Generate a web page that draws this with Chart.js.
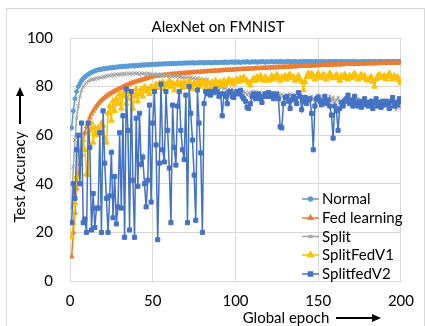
<!DOCTYPE html>
<html>
<head>
<meta charset="utf-8">
<script src="https://cdn.jsdelivr.net/npm/chart.js@4"></script>
<style>
  body { margin: 0; background: #fff; }
  canvas { display: block; }
</style>
</head>
<body>
<canvas id="accChart" width="425" height="326"></canvas>
<script>
// test accuracy per global epoch (epochs 1..200)
const normal = [
  63, 70, 75, 78, 80, 81.3, 82.5, 83.3, 84, 84.6,
  85, 85.5, 85.8, 86.2, 86.4, 86.7, 86.9, 87.1, 87, 87.4,
  87.3, 87.6, 87.5, 87.8, 87.6, 88, 87.8, 88.1, 88, 88.3,
  88.1, 88.4, 88.2, 88.5, 88.3, 88.6, 88.5, 88.7, 88.4, 88.8,
  88.6, 88.9, 88.7, 89, 88.8, 89.1, 88.9, 89.2, 89, 89.2,
  89.1, 89.3, 89.1, 89.4, 89.2, 89.4, 89.3, 89.5, 89.3, 89.5,
  89.4, 89.6, 89.4, 89.6, 89.5, 89.7, 89.5, 89.7, 89.6, 89.8,
  89.6, 89.8, 89.7, 89.9, 89.6, 89.8, 89.7, 89.9, 89.8, 90,
  89.7, 89.9, 89.8, 90, 89.7, 89.9, 89.8, 90.1, 89.8, 90,
  89.9, 90.1, 89.8, 90.2, 89.9, 90.1, 90, 90.2, 89.9, 90.2,
  90, 90.2, 89.9, 90.1, 90.2, 90, 90.3, 90.1, 90, 90.2,
  90.1, 90.3, 90, 90.2, 90.1, 90.3, 90.2, 90, 90.3, 90.1,
  90.2, 90.4, 90.1, 90.2, 90.3, 90.1, 90.4, 90.2, 90.1, 90.3,
  90.2, 90.4, 90.1, 90.3, 90.2, 90.4, 90.2, 90.1, 90.3, 90.2,
  90.4, 90.2, 90.3, 90.1, 90.4, 90.2, 90.3, 90.2, 90.4, 90.1,
  90.3, 90.2, 90.4, 90.3, 90.1, 90.3, 90.4, 90.2, 90.3, 90.2,
  90.4, 90.2, 90.3, 90.4, 90.2, 90.3, 90.1, 90.4, 90.3, 90.2,
  90.3, 90.4, 90.2, 90.3, 90.1, 90.3, 90.4, 90.2, 90.3, 90.2,
  90.4, 90.3, 90.2, 90.4, 90.3, 90.2, 90.3, 90.4, 90.2, 90.3,
  90.2, 90.4, 90.3, 90.2, 90.4, 90.3, 90.2, 90.4, 90.3, 90.3
];

const fedLearning = [
  10, 20, 28, 38, 44, 48, 54, 58, 61, 63.5,
  65.5, 67.3, 68.8, 70, 71, 72, 72.9, 73.7, 74.4, 75,
  75.6, 76.1, 76.6, 77, 77.4, 77.8, 78.2, 78.5, 78.9, 79.2,
  79.5, 79.9, 80.2, 80.5, 80.8, 81.1, 81.4, 81.6, 81.9, 82.1,
  82.3, 82.5, 82.7, 82.9, 83.1, 83.3, 83.5, 83.7, 83.9, 84.1,
  84.3, 84.4, 84.4, 84.5, 84.6, 84.6, 84.8, 84.8, 84.9, 85,
  85, 85.1, 85.2, 85.2, 85.3, 85.4, 85.4, 85.5, 85.5, 85.6,
  85.7, 85.7, 85.8, 85.8, 85.9, 85.9, 86, 86, 86.1, 86.1,
  86.2, 86.2, 86.3, 86.3, 86.4, 86.4, 86.5, 86.5, 86.5, 86.6,
  86.6, 86.7, 86.7, 86.8, 86.8, 86.9, 86.9, 86.9, 87, 87,
  87.1, 87.1, 87.1, 87.2, 87.2, 87.3, 87.3, 87.3, 87.4, 87.4,
  87.4, 87.5, 87.5, 87.5, 87.6, 87.6, 87.6, 87.7, 87.7, 87.7,
  87.8, 87.8, 87.8, 87.9, 87.9, 87.9, 88, 88, 88, 88.1,
  88.1, 88.1, 88.2, 88.2, 88.2, 88.3, 88.3, 88.3, 88.4, 88.4,
  88.4, 88.5, 88.5, 88.5, 88.6, 88.6, 88.6, 88.7, 88.7, 88.7,
  88.8, 88.8, 88.8, 88.9, 88.9, 88.9, 88.9, 89, 89, 89,
  89, 89.1, 89.1, 89.1, 89.1, 89.2, 89.2, 89.2, 89.2, 89.3,
  89.3, 89.3, 89.3, 89.3, 89.4, 89.4, 89.4, 89.4, 89.4, 89.5,
  89.5, 89.5, 89.5, 89.5, 89.5, 89.6, 89.6, 89.6, 89.6, 89.6,
  89.6, 89.7, 89.7, 89.7, 89.7, 89.7, 89.7, 89.8, 89.8, 89.8
];

const split = [
  30, 47, 58, 67, 72, 76, 78.5, 80, 81, 81.7,
  82.2, 82.5, 82.9, 83.1, 83, 83.5, 83.3, 83.8, 83.6, 84,
  84, 84.5, 84.2, 84.8, 84.4, 85, 84.6, 85.2, 84.8, 85,
  85.3, 84.9, 85.4, 85, 85.6, 85.2, 85.5, 85.1, 85.6, 85.3,
  85.5, 85, 85.6, 85.2, 85.4, 84.9, 85.5, 85.1, 85.3, 84.8,
  85.2, 84.7, 85.1, 84.6, 85, 84.5, 84.9, 84.4, 84.8, 84.2,
  84.6, 84.1, 84.5, 84, 84.4, 83.8, 84.2, 83.7, 84, 83.5,
  83.9, 83.4, 83.8, 83.2, 83.6, 83, 83.4, 82.8, 83.2, 82.6,
  83, 82.5, 83, 81.5, 82, 81, 81.5, 80.5, 80, 80.5,
  79.5, 80, 79, 79.5, 78.5, 79, 78, 79, 78.5, 78,
  78.5, 77.5, 78, 77, 78, 77.5, 76.5, 77.5, 77, 78,
  77, 78, 76.5, 77.5, 77, 76, 77.5, 76.5, 77, 78,
  77, 76, 77.5, 76.5, 77, 75.5, 76.5, 77, 76, 75,
  76.5, 75.5, 77, 76, 75, 76.5, 75, 76, 77, 75.5,
  76, 74.5, 76, 75.5, 74.5, 76, 75, 73.5, 75.5, 76.5,
  75, 74, 76, 75, 73.5, 74.5, 76, 74, 75.5, 73,
  74.5, 75.5, 73.5, 74, 75, 72.5, 74, 73.5, 75, 73,
  74, 72.5, 73.5, 75, 73, 72, 74, 73, 71.5, 73.5,
  72.5, 74, 73, 71.5, 73, 72.5, 74, 71, 72.5, 73.5,
  72, 71, 73, 72.5, 71.5, 73, 70.5, 72, 71.5, 71
];

const splitFedV1 = [
  18, 24, 32, 43, 52, 53, 52, 58, 54, 44,
  43.6, 62, 65, 57, 63, 60, 63, 62, 65, 64,
  59, 57, 69, 72, 66, 74, 70, 75, 73, 77,
  71, 76, 78, 73, 75, 78, 77, 71, 76, 79,
  74, 77, 79, 76, 80, 78, 79, 77, 80, 79,
  80, 81, 79.5, 81.5, 80.5, 82, 79, 81, 80.5, 82.5,
  80, 81.5, 78.5, 81, 82, 80.5, 81.5, 79.5, 82, 81,
  80, 82.5, 81, 79, 81.5, 80.5, 82, 80, 81, 82.5,
  81, 80, 82, 81.5, 79.5, 82, 81, 82.5, 80.5, 81.5,
  82, 80.5, 82.5, 81, 82, 83, 81.5, 82.5, 81, 82.5,
  83, 82, 83.5, 82.5, 84, 83, 82.5, 81.5, 80.5, 82.5,
  83.5, 82.5, 84, 83, 84.5, 83.5, 82.5, 84, 83, 82.5,
  83.5, 84.5, 83, 84, 85, 83.5, 82.5, 84, 83.5, 84.5,
  83, 84.5, 85, 83.5, 84, 82.5, 83.5, 84.5, 83, 82,
  78.6, 82, 84, 85.5, 84.5, 85.5, 84, 83, 84.5, 85.5,
  84, 83.5, 85, 84.5, 83, 84, 85.5, 84.5, 83.5, 84,
  85, 83.5, 82.5, 84.5, 83.5, 85, 84, 83, 84.5, 83.5,
  84.5, 85.5, 84, 83, 84, 85, 83.5, 84.5, 83, 82.5,
  83.5, 84, 82, 80, 83, 84.5, 85, 83.5, 84, 84.5,
  83, 84.5, 85.5, 84, 83, 84.5, 83.5, 84, 82.5, 81.5
];

const splitFedV2 = [
  24, 40, 34, 54, 60, 40, 65, 24, 25.5, 20,
  65, 55, 21, 36, 22, 30, 30, 61, 20, 70,
  48.5, 34, 20, 35, 53, 26, 43, 23.5, 30.5, 61,
  30, 68, 18, 79, 62, 21, 78, 41.5, 18, 67,
  39, 69, 48, 51, 40, 30.5, 41.5, 72.4, 32.5, 65,
  78, 56, 17, 48.5, 81, 54, 49, 78, 62, 46.5,
  24, 72.4, 55, 47.7, 72, 78, 62, 54, 50, 76.5,
  24, 80, 69, 58, 43.6, 25, 78.6, 65, 52.7, 20,
  73, 78, 77, 78, 76.5, 78, 77.5, 79, 78, 76,
  77, 68, 77, 76, 73, 77.5, 78, 76, 75.5, 77,
  78, 77, 78.5, 76, 75, 74, 71.5, 71, 73, 76,
  77, 75, 76.5, 77, 75, 73.5, 76, 77, 76, 77.5,
  76, 77, 75, 76.5, 77, 75, 63.5, 63, 73, 75.5,
  76, 74, 71, 74.5, 76, 75, 73, 77.5, 76, 70.5,
  74, 75.5, 73, 74.5, 75, 69, 54, 72, 75, 75.7,
  74, 72.5, 74, 76, 73, 74.5, 72, 68.3, 58.8, 72,
  70, 62, 71, 73.5, 72, 74, 75, 76.5, 73, 74.5,
  72, 76, 73.5, 72, 74, 71.5, 73, 75, 72.5, 73.5,
  72, 74, 71, 73.5, 75, 72, 73.5, 71.5, 74, 72.5,
  74, 73, 71, 74, 75.5, 72, 73.5, 72.5, 75, 73.7
];

const seriesNames = ['Normal', 'Fed learning', 'Split', 'SplitFedV1', 'SplitfedV2'];
const seriesColors = ['#5B9BD5', '#ED7D31', '#A5A5A5', '#FFC000', '#4472C4'];
const xTicks = [0, 50, 100, 150, 200];
const yTicks = [0, 20, 40, 60, 80, 100];

const fontFamily = 'Lato, "Open Sans", sans-serif';

// marker look per series (Excel defaults)
const markerStyles = [
  { pointStyle: 'circle', radius: 2 },
  { pointStyle: 'triangle', radius: 2.6 },
  { pointStyle: 'crossRot', radius: 2.6 },
  { pointStyle: 'triangle', radius: 3.2 },
  { pointStyle: 'rect', radius: 2.9 }
];

const allSeries = [normal, fedLearning, split, splitFedV1, splitFedV2];

function toPoints(values) {
  return values.map((v, i) => ({ x: i + 1, y: v }));
}

const datasets = allSeries.map((values, i) => ({
  label: seriesNames[i],
  data: toPoints(values),
  borderColor: seriesColors[i],
  backgroundColor: seriesColors[i],
  borderWidth: 1.5,
  pointStyle: markerStyles[i].pointStyle,
  pointRadius: markerStyles[i].radius,
  pointBorderWidth: 1,
  pointBorderColor: seriesColors[i],
  pointBackgroundColor: seriesColors[i],
  tension: 0,
  order: allSeries.length - i // later series on top
}));

// title, axis titles with arrows, legend inside the plot, outer frame
const decorations = {
  id: 'decorations',
  beforeDraw(chart) {
    const ctx = chart.ctx;
    ctx.save();
    ctx.fillStyle = '#fff';
    ctx.fillRect(0, 0, chart.width, chart.height);
    ctx.strokeStyle = '#D9D9D9';
    ctx.lineWidth = 1;
    ctx.strokeRect(6.5, 8.5, 418, 330);
    ctx.restore();
  },
  afterDraw(chart) {
    const ctx = chart.ctx;
    const area = chart.chartArea;
    ctx.save();
    ctx.fillStyle = '#000';
    ctx.strokeStyle = '#000';
    ctx.font = '15px ' + fontFamily;
    ctx.textBaseline = 'middle';

    // chart title
    ctx.textAlign = 'center';
    ctx.fillText('AlexNet on FMNIST', 218, 27);

    // x axis title + arrow
    ctx.fillText('Global epoch', 286, 318);
    ctx.lineWidth = 2;
    ctx.beginPath();
    ctx.moveTo(336, 318);
    ctx.lineTo(373, 318);
    ctx.stroke();
    ctx.beginPath();
    ctx.moveTo(381, 318);
    ctx.lineTo(372, 314);
    ctx.lineTo(372, 322);
    ctx.closePath();
    ctx.fill();

    // y axis title + arrow
    ctx.save();
    ctx.translate(20, 177);
    ctx.rotate(-Math.PI / 2);
    ctx.fillText('Test Accuracy', 0, 0);
    ctx.restore();
    ctx.beginPath();
    ctx.moveTo(20, 124);
    ctx.lineTo(20, 95);
    ctx.stroke();
    ctx.beginPath();
    ctx.moveTo(20, 87);
    ctx.lineTo(16, 96);
    ctx.lineTo(24, 96);
    ctx.closePath();
    ctx.fill();

    // legend
    ctx.textAlign = 'left';
    const rowY = [199, 218, 236.5, 255, 274];
    seriesNames.forEach((name, i) => {
      const y = rowY[i];
      ctx.strokeStyle = seriesColors[i];
      ctx.fillStyle = seriesColors[i];
      ctx.lineWidth = 1.5;
      ctx.beginPath();
      ctx.moveTo(302, y);
      ctx.lineTo(319, y);
      ctx.stroke();
      Chart.helpers.drawPoint(ctx, {
        pointStyle: markerStyles[i].pointStyle,
        radius: markerStyles[i].radius,
        rotation: 0,
        borderWidth: 1
      }, 310.5, y);
      ctx.fillStyle = '#000';
      ctx.fillText(name, 322, y + 0.5);
    });
    ctx.restore();
  }
};

new Chart(document.getElementById('accChart'), {
  type: 'line',
  data: { datasets: datasets },
  plugins: [decorations],
  options: {
    responsive: false,
    devicePixelRatio: 1,
    animation: false,
    layout: { padding: { left: 0, right: 13, top: 38, bottom: 0 } },
    plugins: {
      legend: { display: false },
      title: { display: false },
      tooltip: { enabled: false }
    },
    scales: {
      x: {
        type: 'linear',
        min: 0,
        max: 200,
        afterBuildTicks: (scale) => { scale.ticks = xTicks.map(v => ({ value: v })); },
        afterFit: (scale) => { scale.height = 45; },
        grid: { color: '#D9D9D9', drawTicks: false },
        border: { color: '#D9D9D9' },
        ticks: { color: '#000', padding: 11, maxRotation: 0, font: { family: fontFamily, size: 15 } }
      },
      y: {
        min: 0,
        max: 100,
        afterBuildTicks: (scale) => { scale.ticks = yTicks.map(v => ({ value: v })); },
        afterFit: (scale) => { scale.width = 70; },
        grid: { color: '#D9D9D9', drawTicks: false },
        border: { color: '#D9D9D9' },
        ticks: { color: '#000', padding: 17, font: { family: fontFamily, size: 15 } }
      }
    }
  }
});
</script>
</body>
</html>
